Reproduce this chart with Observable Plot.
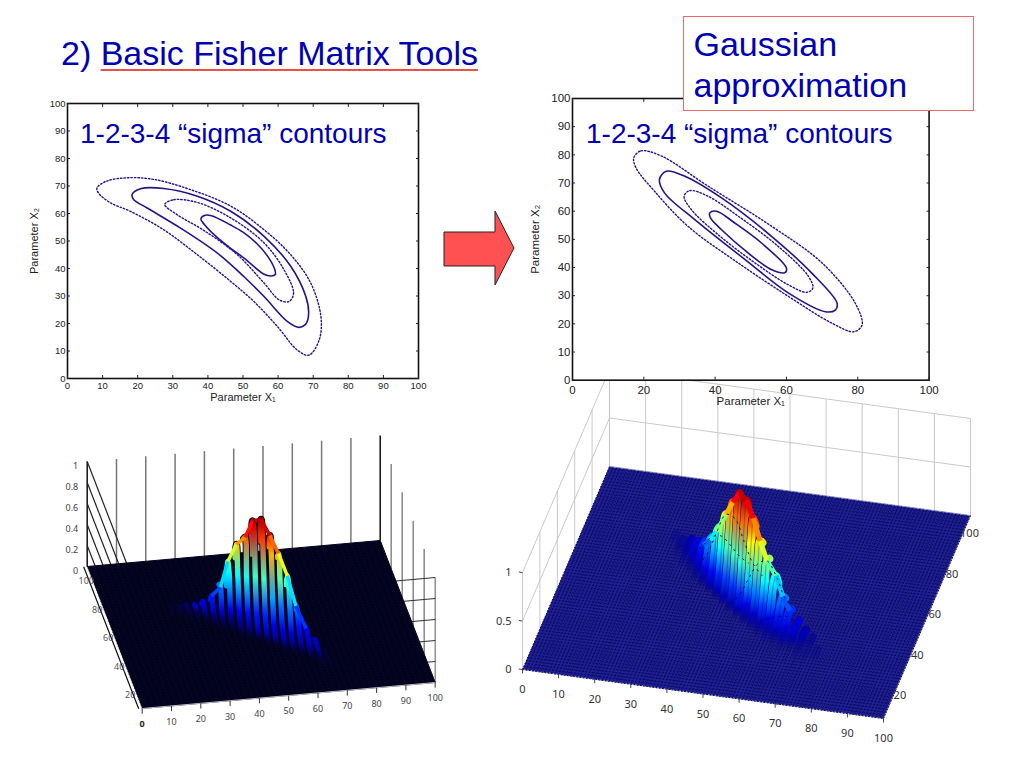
<!DOCTYPE html>
<html><head><meta charset="utf-8">
<script src="https://cdn.jsdelivr.net/npm/d3@7"></script>
<script src="https://cdn.jsdelivr.net/npm/@observablehq/plot@0.6"></script>
<style>
html,body{margin:0;padding:0;background:#fff;}
#page{position:relative;width:1024px;height:768px;overflow:hidden;font-family:"Liberation Sans",Arial,sans-serif;}
#page>*{position:absolute;}
.blue{color:#0000b4;white-space:nowrap;}
#title{left:61px;top:31px;font-size:34px;line-height:44px;}
#title u{text-decoration:underline;text-decoration-color:#e8504a;text-decoration-thickness:1.5px;text-underline-offset:4px;}
#box{left:683px;top:16px;width:291px;height:95px;box-sizing:border-box;border:1.5px solid #f0686a;background:#fff;padding:7px 0 0 9.5px;font-size:34px;line-height:41px;}
.sig{font-size:28px;line-height:30px;}
</style></head><body><div id="page"></div>
<script>
// ---- 2-D contours (x1, x2) ----
const ticks10 = [0,10,20,30,40,50,60,70,80,90,100];
const ticks20 = [0,20,40,60,80,100];
const bananaC1 = [[38,58],[39,59.3],[41,59.2],[46.5,55.8],[50,53.2],[54,49],[57,44.5],[59,39.8],[59.2,37.8],[58,37.3],[56,37.9],[50.3,43.8],[46,47.8],[42.7,51.2],[39,56]];
const bananaC2 = [[27.7,63.3],[30.3,65],[37,64],[46.5,58.4],[56,49.3],[61.7,39.5],[64.4,31],[63.1,28],[60.3,28.6],[56,34.7],[48.4,45],[38.9,53.8],[31.2,59.6]];
const bananaC3 = [[18.4,66.9],[20.8,69],[27.4,69.1],[37,66.3],[46.5,60.8],[56,51.7],[63.6,40.8],[67.9,29.8],[68.7,23.7],[68,20],[66,18.6],[62.7,20.7],[56,29.8],[50.3,37],[42.7,45.6],[32.2,54.7],[22.7,62],[18.9,65]];
const bananaC4 = [[8.4,69.3],[11.2,71.8],[17,73],[24.6,72.4],[35,68.7],[46.5,62.7],[56,54.1],[63.6,45],[69.3,34.7],[72.2,22.5],[71.7,14],[68.8,8.5],[65.5,10.3],[59.8,18.9],[53.1,28],[46.5,35.3],[37,45],[27.4,54.1],[17.9,60.8],[12.2,63.9],[8.8,67.5]];
const gaussC1 = [[38.5,59.4],[40.4,60],[45.5,55.8],[53,48.7],[60,39.8],[59.6,38.2],[55.9,39.2],[49.3,45.1],[41.8,53.4],[38.7,57.6]];
const gaussC2 = [[31.3,65.3],[32.9,67.3],[38,65.3],[46.5,58.2],[57.7,47.5],[66.2,36.8],[67.4,32.7],[65.7,31.2],[60.6,33.8],[51.2,41.6],[40.8,51.7],[33.3,60.6]];
const gaussC3 = [[24.4,71.3],[26.3,74.2],[31.5,72.4],[41.8,64.7],[55.9,51],[67.1,38],[74.2,27.3],[73.7,24.9],[70.9,24.3],[60.6,30.9],[48.4,42.8],[34.3,57],[25.8,66.5]];
const gaussC4 = [[17.2,79],[19.2,81.4],[24.9,79.6],[38,68.9],[55.9,54.6],[70,41.6],[79.3,27.3],[81.2,19.6],[78.9,17.2],[72.8,20.2],[60.6,29.7],[46.5,41.6],[32.4,54.6],[23,67.1],[17.8,75.4]];

// ---- 3-D surfaces: estimated heights along ribs of constant x1 ----
const step = 2.5;
const ribX1Left = [22.5,25,27.5,30,32.5,35,37.5,40,42.5,45,47.5,50,52.5,55,57.5,60,62.5,65,67.5,70];
const ribStartLeft = [62.5,60,57.5,55,55,52.5,50,47.5,45,42.5,40,37.5,35,32.5,30,27.5,25,20,17.5,15];
const ribZLeft = [
 [.002,.006,.006],[.001,.005,.014,.008],[.002,.006,.018,.027,.009],[.001,.004,.02,.05,.036,.007],
 [.004,.02,.067,.097,.038,.005],[.005,.026,.07,.177,.104,.026,.005],[.007,.02,.09,.284,.277,.1,.017,.003],
 [.004,.016,.133,.445,.523,.257,.078,.008],[.003,.034,.153,.45,.714,.553,.17,.043,.003],[.005,.036,.162,.468,.81,.765,.378,.09,.01],
 [.005,.05,.18,.5,.93,.96,.61,.17,.03],[.01,.06,.19,.5,.85,1,.76,.3,.07,.01],[.01,.046,.124,.35,.736,.874,.736,.386,.1,.01],
 [.017,.051,.102,.255,.52,.73,.66,.4,.115,.012],[.012,.039,.105,.289,.49,.546,.43,.234,.094,.012],[.006,.033,.088,.165,.27,.286,.225,.143,.074,.006],
 [.01,.04,.068,.11,.135,.12,.085,.06,.015],[.005,.014,.027,.045,.059,.059,.04,.023,.009],[.003,.005,.008,.009,.008,.006,.003],[.001,.002,.002,.001]];
const ribX1Right = [25,27.5,30,32.5,35,37.5,40,42.5,45,47.5,50,52.5,55,57.5,60,62.5,65,67.5,70,72.5,75];
const ribZRight = [
 [0,0,.01,.01,.01,0,0,0,0],[0,.01,.02,.02,.01,.01,0,0,0],[.01,.02,.03,.04,.03,.02,.01,0,0],[.01,.03,.06,.08,.07,.04,.01,0,0],
 [.02,.06,.11,.15,.14,.08,.03,.01,0],[.03,.09,.19,.27,.25,.15,.06,.02,0],[.04,.12,.28,.42,.41,.27,.11,.03,.01],
 [.04,.15,.37,.58,.61,.42,.19,.06,.01],[.04,.17,.44,.72,.80,.58,.28,.09,.02],[.04,.16,.44,.78,.96,.7,.36,.12,.03],
 [.04,.14,.42,.77,.95,.77,.42,.14,.04],[.03,.1,.32,.63,.83,.7,.4,.15,.03],[.02,.07,.23,.48,.66,.59,.36,.14,.03],
 [.01,.05,.16,.36,.52,.49,.31,.13,.03],[.01,.03,.1,.24,.37,.38,.25,.11,.04],[0,.02,.05,.13,.21,.23,.16,.08,.03],
 [0,.01,.03,.08,.14,.15,.11,.06,.02],[0,0,.01,.04,.07,.08,.06,.03,.01],[0,0,.01,.02,.03,.04,.03,.02,.01],[0,0,0,.01,.01,.02,.02,.01,0],[0,0,0,0,.01,.01,.01,0,0]];
const x2RowsRight = [62.5,57.5,42.5,35];
const x1TicksLeft = [10,20,30,40,50,60,70,80,90,100];
const x2TicksLeft = [20,40,60,80,100];
const zTicksLeft = [0,.2,.4,.6,.8,1];
const x1TicksRight = [0,10,20,30,40,50,60,70,80,90,100];
const x2TicksRight = [20,40,60,80,100];
const zTicksRight = [0,.5,1];

// cameras: page position of the origin and of one unit along x1, x2, z
const camLeft = {o:[141.7,708],e1:[2.93,-.26],e2:[-.55,-1.42],ez:105};
const camRight = {o:[522,669],e1:[3.61,.49],e2:[.87,-2.03],ez:97};
const jetRange = ["#00008f","#0000ff","#00ffff","#ffff00","#ff0000","#800000"];
const jetLeft = Plot.scale({color:{type:"linear",domain:[0,.15,.45,.66,.9,1.03],range:jetRange,interpolate:"rgb"}});
const jetRight = Plot.scale({color:{type:"linear",domain:[0,.11,.36,.63,.88,1.03],range:jetRange,interpolate:"rgb"}});

const px = (c,a,b) => c.o[0]+c.e1[0]*a+c.e2[0]*b;
const py = (c,a,b,z=0) => c.o[1]+c.e1[1]*a+c.e2[1]*b-c.ez*z;
const W=1024,H=768;
const pageScales = {x:{domain:[0,W],range:[0,W],axis:null},y:{domain:[0,H],range:[0,H],axis:null}};
const NS="http://www.w3.org/2000/svg";

function link(c,data,from,to,opts){
  return Plot.link(data,{x1:d=>px(c,...from(d)),y1:d=>py(c,...from(d)),x2:d=>px(c,...to(d)),y2:d=>py(c,...to(d)),...opts});
}
function tickText(c,vals,pos,opts){
  return Plot.text(vals,{x:d=>px(c,...pos(d)),y:d=>py(c,...pos(d)),text:d=>String(d),...opts});
}
// one smooth line per rib (near slope up to just past its top), coloured with a jet gradient
function ribMarks(c,name,xs,starts,zs,jet,o){
  const defs=document.createElementNS(NS,"defs");
  const marks=[()=>defs];
  const order=d3.range(xs.length).sort((i,j)=>py(c,xs[i],50)-py(c,xs[j],50));
  const tops=[];
  for(const i of order){
    const a=xs[i];
    const all=[0,...zs[i],0].map((z,j)=>({a,b:starts[i]+(j-1)*step,z}));
    const m=d3.maxIndex(all,p=>p.z);
    const pts=all.slice(0,m+2);
    tops.push(all[m]);
    const yB=py(c,a,pts[0].b,0),yT=py(c,a,pts[m].b,pts[m].z);
    const grad=(id,col,op)=>{
      const g=document.createElementNS(NS,"linearGradient");
      g.setAttribute("id",id);g.setAttribute("gradientUnits","userSpaceOnUse");
      g.setAttribute("x1",0);g.setAttribute("x2",0);g.setAttribute("y1",yT);g.setAttribute("y2",yB);
      for(let j=m;j>=0;j--){
        const s=document.createElementNS(NS,"stop");
        s.setAttribute("offset",(py(c,a,pts[j].b,pts[j].z)-yT)/Math.max(1,yB-yT));
        s.setAttribute("stop-color",col(pts[j].z));
        s.setAttribute("stop-opacity",op(pts[j].z));
        g.appendChild(s);
      }
      defs.appendChild(g);
    };
    grad(`${name}d${i}`,()=>o.dark,z=>Math.min(1,z/o.fadeDark));
    grad(`${name}c${i}`,z=>jet.apply(z),z=>Math.min(1,z/o.fadeColor));
    const opts={x:p=>px(c,p.a,p.b),y:p=>py(c,p.a,p.b,p.z),curve:"catmull-rom",strokeLinejoin:"round"};
    marks.push(Plot.line(pts,{...opts,stroke:`url(#${name}d${i})`,strokeWidth:o.darkW}));
    marks.push(Plot.line(pts,{...opts,stroke:`url(#${name}c${i})`,strokeWidth:o.colorW}));
    if(o.thin) marks.push(Plot.line(pts,{...opts,stroke:o.dark,strokeOpacity:o.thin,strokeWidth:1.2}));
  }
  if(o.topW){
    const t=tops.filter(p=>p.z>=.1).sort((p,q)=>p.a-q.a);
    marks.push(Plot.link(d3.pairs(t),{x1:d=>px(c,d[0].a,d[0].b),y1:d=>py(c,d[0].a,d[0].b,d[0].z),x2:d=>px(c,d[1].a,d[1].b),y2:d=>py(c,d[1].a,d[1].b,d[1].z),
      stroke:d=>jet.apply((d[0].z+d[1].z)/2),strokeWidth:o.topW}));
  }
  return marks;
}

// ---------- right surface ----------
function surfaceRight(){
  const c=camRight;
  const mesh1=d3.range(0,100.01,1),mesh2=d3.range(0,100.01,1.5);
  const corners=[[0,0],[100,0],[100,100],[0,100]];
  const starts=ribX1Right.map(a=>90-a);
  const rows=[];
  x2RowsRight.forEach(b=>ribX1Right.forEach((a,i)=>{
    const j=Math.round((b-starts[i])/step);
    if(j>=0&&j<9&&ribZRight[i][j]>.02) rows.push({a,b,z:ribZRight[i][j]});
  }));
  const grey="#c9c9c9";
  return Plot.plot({width:W,height:H,margin:0,...pageScales,
    marks:[
      link(c,ticks10,d=>[d,100,0],d=>[d,100,1],{stroke:grey,strokeWidth:1}),
      link(c,[1,.5],d=>[0,100,d],d=>[100,100,d],{stroke:grey,strokeWidth:1}),
      link(c,[1,.5],d=>[0,0,d],d=>[0,100,d],{stroke:grey,strokeWidth:1}),
      link(c,[0,20,40,60,80],d=>[0,d,0],d=>[0,d,1],{stroke:grey,strokeWidth:1}),
      Plot.line(corners,{x:d=>px(c,d[0],d[1]),y:d=>py(c,d[0],d[1]),fill:"#1e1e96",stroke:"#8f90c8",strokeWidth:1}),
      link(c,mesh1,d=>[d,0,0],d=>[d,100,0],{stroke:"#0a0a50",strokeWidth:1,strokeDasharray:"1.6 1.4"}),
      link(c,mesh2,d=>[0,d,0],d=>[100,d,0],{stroke:"#0a0a50",strokeWidth:1,strokeDasharray:"1.6 1.6"}),
      ...ribMarks(c,"r",ribX1Right,starts,ribZRight,jetRight,{dark:"#0c0c7a",darkW:9.2,colorW:8.2,fadeDark:.05,fadeColor:.04,thin:.3,topW:5}),
      Plot.line(rows,{x:d=>px(c,d.a,d.b),y:d=>py(c,d.a,d.b,d.z),z:"b",stroke:"#111",strokeWidth:1,strokeDasharray:"1.5 5",curve:"catmull-rom"}),
      link(c,x1TicksRight,d=>[d,0,0],d=>[d,0,-.04],{stroke:"#444",strokeWidth:1}),
      tickText(c,x1TicksRight,d=>[d,0,0],{dy:20,fontSize:11,fill:"#333"}),
      tickText(c,x2TicksRight,d=>[100,d,0],{dx:-1,dy:18,fontSize:11,fill:"#333"}),
      tickText(c,zTicksRight,d=>[0,0,d],{dx:-11,textAnchor:"end",fontSize:11,fill:"#333"}),
      link(c,zTicksRight,d=>[0,0,d],d=>[-1,0,d],{stroke:"#444",strokeWidth:1})
    ]});
}

// ---------- left surface ----------
function surfaceLeft(){
  const c=camLeft;
  const mesh=d3.range(0,100.01,2);
  const corners=[[0,0],[100,0],[100,100],[0,100]];
  const zl=[.2,.4,.6,.8,1];
  return Plot.plot({width:W,height:H,margin:0,...pageScales,
    marks:[
      link(c,[10,20,30,40,50,60,70,80,90],d=>[d,100,0],d=>[d,100,1],{stroke:"#777",strokeWidth:1.5}),
      link(c,[20,40,60,80],d=>[100,d,0],d=>[100,d,1],{stroke:"#888",strokeWidth:1.5}),
      link(c,[0,100],d=>[d,100,0],d=>[d,100,1],{stroke:"#111",strokeWidth:1.5}),
      link(c,[0],d=>[100,d,0],d=>[100,d,1],{stroke:"#777",strokeWidth:1.2}),
      link(c,zl,d=>[0,100,d],d=>[0,0,d],{stroke:"#222",strokeWidth:1.2}),
      link(c,zl,d=>[100,0,d],d=>[0,0,d],{stroke:"#333",strokeWidth:1.1}),
      Plot.line(corners,{x:d=>px(c,d[0],d[1]),y:d=>py(c,d[0],d[1]),fill:"#03031e",stroke:"#03031e",strokeWidth:1}),
      link(c,mesh,d=>[d,0,0],d=>[d,100,0],{stroke:"#12124e",strokeWidth:.7,strokeDasharray:"1 2"}),
      ...ribMarks(c,"l",ribX1Left,ribStartLeft,ribZLeft,jetLeft,{dark:"#02021a",darkW:7.3,colorW:5.4,fadeDark:.03,fadeColor:.05,topW:3.5}),
      link(c,[0],d=>[-1.2,0,0],d=>[-1.2,100,0],{stroke:"#111",strokeWidth:1.2}),
      link(c,[0],d=>[0,0,0],d=>[100,0,0],{stroke:"#eee",strokeWidth:.8}),
      link(c,[0,...x1TicksLeft],d=>[d,0,0],d=>[d,0,-.05],{stroke:"#333",strokeWidth:1}),
      tickText(c,x1TicksLeft,d=>[d,0,0],{dy:16,fontSize:9,fill:"#444"}),
      tickText(c,[0],d=>[0,0,0],{dy:16,fontSize:9,fontWeight:"bold",fill:"#222"}),
      tickText(c,x2TicksLeft,d=>[0,d,0],{dx:-1,dy:15,fontSize:9,fill:"#555"}),
      tickText(c,zTicksLeft,d=>[0,100,d],{dx:-9,dy:5,textAnchor:"end",fontSize:9,fill:"#444"})
    ]});
}

// ---------- contour plots ----------
function contourPlot(cs,o){
  const line=(p,dash,w)=>Plot.line(p,{x:d=>d[0],y:d=>d[1],curve:"catmull-rom-closed",stroke:"#24148a",strokeWidth:w,strokeDasharray:dash});
  const fs=o.fontSize;
  return Plot.plot({width:o.ml+o.w+20,height:o.mt+o.h+34,marginLeft:o.ml,marginRight:20,marginTop:o.mt,marginBottom:34,
    style:{background:"transparent",fontFamily:"Liberation Sans, Arial, sans-serif",color:"#222"},
    x:{domain:[0,100]},y:{domain:[0,100]},
    marks:[
      Plot.frame({fill:"white",stroke:"#111",strokeWidth:1.6}),
      Plot.axisX({ticks:o.xt,tickSize:-3,text:null,label:null}),
      Plot.axisX({anchor:"top",ticks:o.xt,tickSize:-3,text:null,label:null}),
      Plot.axisY({ticks:ticks10,tickSize:-3,text:null,label:null}),
      Plot.axisY({anchor:"right",ticks:ticks10,tickSize:-3,text:null,label:null}),
      Plot.axisX({ticks:o.xt,tickSize:0,tickPadding:o.tpx,fontSize:fs,label:null}),
      Plot.axisY({ticks:ticks10,tickSize:0,tickPadding:2,fontSize:fs,label:null}),
      Plot.axisX({ticks:[],tickSize:0,fontSize:o.labelSize,label:"Parameter X₁",labelAnchor:"center",labelArrow:"none",labelOffset:o.lox}),
      Plot.axisY({ticks:[],tickSize:0,fontSize:o.labelSize,label:"Parameter X₂",labelAnchor:"center",labelArrow:"none",labelOffset:o.loy}),
      line(cs[3],"1.5 2",1.4),line(cs[2],null,1.6),line(cs[1],"1.5 2",1.4),line(cs[0],null,1.6)
    ]});
}

const page=document.getElementById("page");
function place(node,l,t){node.style.position="absolute";node.style.left=l+"px";node.style.top=t+"px";node.style.background="transparent";page.appendChild(node);return node;}
place(surfaceRight(),0,0);
place(surfaceLeft(),0,0);
place(contourPlot([bananaC1,bananaC2,bananaC3,bananaC4],{ml:40,mt:10,w:351,h:275,fontSize:9.5,labelSize:11,tpx:4,xt:ticks10,lox:22,loy:37}),27.3,93.3);
place(contourPlot([gaussC1,gaussC2,gaussC3,gaussC4],{ml:50,mt:10,w:356.6,h:281.7,fontSize:11.5,labelSize:11.5,tpx:6,xt:ticks20,lox:25,loy:42}),521.7,88.3);

const html=(id,cls,h,st)=>{const e=document.createElement("div");if(id)e.id=id;e.className=cls;e.innerHTML=h;if(st)e.style.cssText+=st;page.appendChild(e);};
html("title","blue","2) <u>Basic Fisher Matrix Tools</u>");
html(null,"blue sig","1-2-3-4 “sigma” contours","left:80px;top:119px");
html(null,"blue sig","1-2-3-4 “sigma” contours","left:586px;top:119px");
html("box","blue","Gaussian<br>approximation");
const arrow=document.createElement("div");
arrow.innerHTML='<svg width="80" height="80" style="display:block"><polygon points="1,22 52,22 52,1 71,38 52,75 52,56 1,56" fill="#ff5151" stroke="#222" stroke-width="1"/></svg>';
arrow.style.left="442.5px";arrow.style.top="209.5px";page.appendChild(arrow);
</script></body></html>
